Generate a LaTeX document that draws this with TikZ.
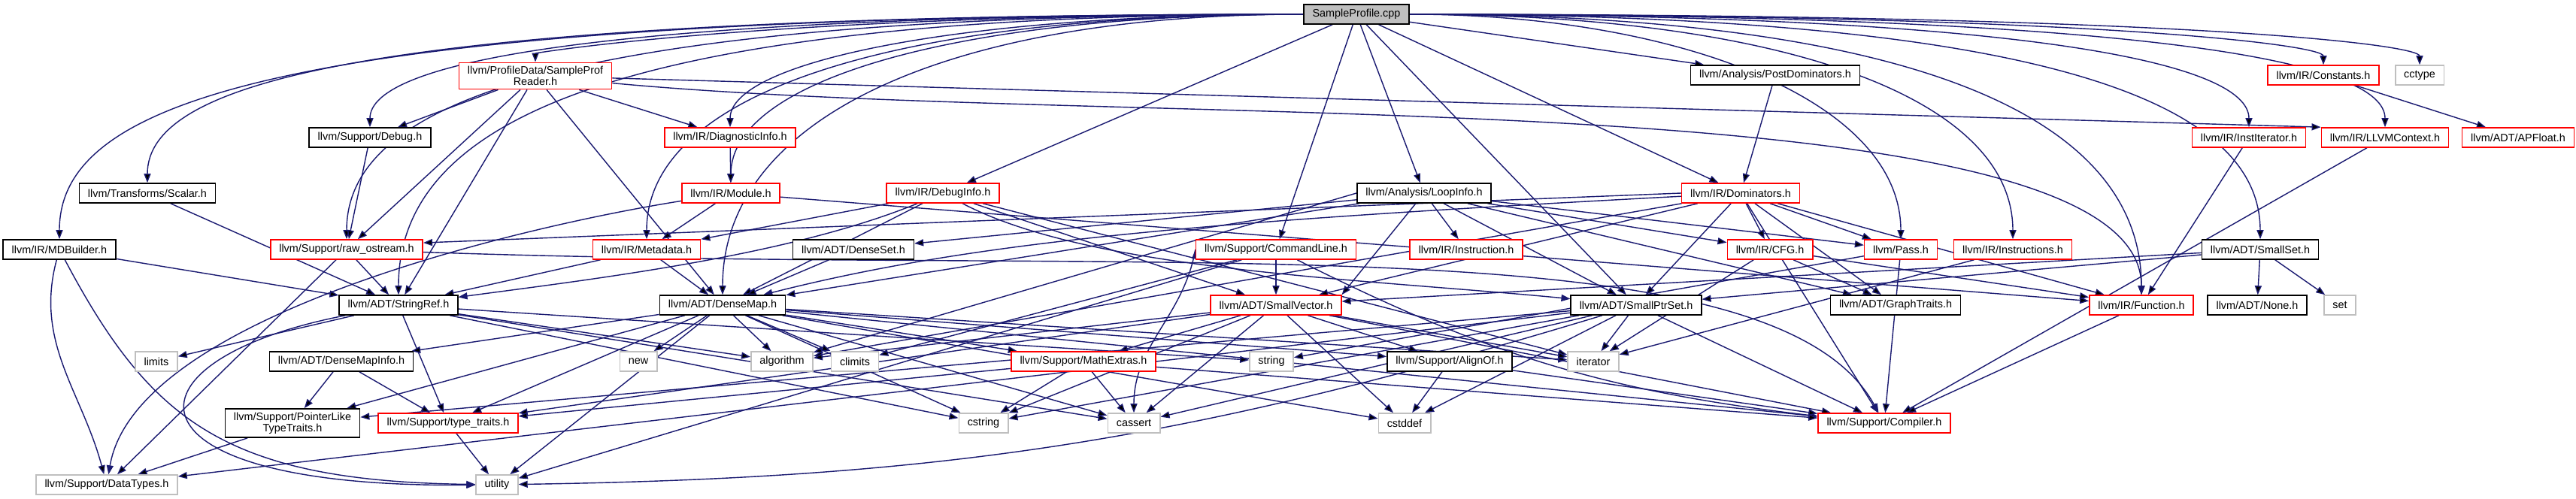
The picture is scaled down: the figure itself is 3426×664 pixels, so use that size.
\documentclass[tikz,border=0pt]{standalone}
\usepackage{fontspec}
\setmainfont{Liberation Sans}
\usetikzlibrary{arrows.meta,calc}
\definecolor{edgeblue}{HTML}{191970}
\definecolor{truncred}{HTML}{FF0000}
\definecolor{sysgray}{HTML}{BFBFBF}
\pgfdeclarelayer{edges}
\pgfsetlayers{edges,main}
\tikzset{
  hdr/.style={rectangle,fill=white,minimum height=5.2mm,inner xsep=2.3mm,inner ysep=1mm,
    line width=0.9pt,align=center,font=\fontsize{8.2}{8.4}\selectfont},
  doc/.style={hdr,draw=black},
  trunc/.style={hdr,draw=truncred},
  sys/.style={hdr,draw=sysgray},
  root/.style={hdr,draw=black,fill=sysgray},
  dep/.style={draw=edgeblue,line width=0.8pt},
  >={Triangle[length=2.4mm,width=1.8mm]},
  fanl/.style={to path={.. controls ($(\tikztotarget |- \tikztostart)+(300,0)$) and ($(\tikztotarget)+(0,-#1)$) .. (\tikztotarget)}},
  fanr/.style={to path={.. controls ($(\tikztotarget |- \tikztostart)+(-300,0)$) and ($(\tikztotarget)+(0,-#1)$) .. (\tikztotarget)}},
}

\begin{document}
\begin{tikzpicture}[x=0.2mm,y=-0.2mm]
  \useasboundingbox (0,0) rectangle (3426,664);
  \node[root]  (sp)      at (1804,19)  {SampleProfile.cpp};
  \node[trunc] (spr)     at (712,101)  {llvm/ProfileData/SampleProf\\Reader.h};
  \node[doc]   (pdom)    at (2361,100) {llvm/Analysis/PostDominators.h};
  \node[trunc] (const)   at (3090,100) {llvm/IR/Constants.h};
  \node[sys]   (cctype)  at (3218,100) {cctype};
  \node[doc]   (dbg)     at (492,183)  {llvm/Support/Debug.h};
  \node[trunc] (diag)    at (971,183)  {llvm/IR/DiagnosticInfo.h};
  \node[trunc] (iiter)   at (2991,183) {llvm/IR/InstIterator.h};
  \node[trunc] (ctx)     at (3172,183) {llvm/IR/LLVMContext.h};
  \node[trunc] (apf)     at (3349,183) {llvm/ADT/APFloat.h};
  \node[doc]   (scalar)  at (196,257)  {llvm/Transforms/Scalar.h};
  \node[trunc] (mod)     at (972,257)  {llvm/IR/Module.h};
  \node[trunc] (dinfo)   at (1254,257) {llvm/IR/DebugInfo.h};
  \node[doc]   (loop)    at (1894,257) {llvm/Analysis/LoopInfo.h};
  \node[trunc] (dom)     at (2315,257) {llvm/IR/Dominators.h};
  \node[doc]   (mdb)     at (79,332)   {llvm/IR/MDBuilder.h};
  \node[trunc] (raw)     at (461,332)  {llvm/Support/raw\_ostream.h};
  \node[trunc] (meta)    at (860,332)  {llvm/IR/Metadata.h};
  \node[doc]   (dset)    at (1135,332) {llvm/ADT/DenseSet.h};
  \node[trunc] (cl)      at (1697,332) {llvm/Support/CommandLine.h};
  \node[trunc] (instr)   at (1950,332) {llvm/IR/Instruction.h};
  \node[trunc] (cfg)     at (2354,332) {llvm/IR/CFG.h};
  \node[trunc] (pass)    at (2528,332) {llvm/Pass.h};
  \node[trunc] (instrs)  at (2677,332) {llvm/IR/Instructions.h};
  \node[doc]   (sset)    at (3006,332) {llvm/ADT/SmallSet.h};
  \node[doc]   (sref)    at (530,406)  {llvm/ADT/StringRef.h};
  \node[doc]   (dmap)    at (961,406)  {llvm/ADT/DenseMap.h};
  \node[trunc] (svec)    at (1697,406) {llvm/ADT/SmallVector.h};
  \node[doc]   (sps)     at (2176,406) {llvm/ADT/SmallPtrSet.h};
  \node[doc]   (gt)      at (2521,406) {llvm/ADT/GraphTraits.h};
  \node[trunc] (func)    at (2848,406) {llvm/IR/Function.h};
  \node[doc]   (none)    at (3002,406) {llvm/ADT/None.h};
  \node[sys]   (set)     at (3112,406) {set};
  \node[sys]   (limits)  at (208,481)  {limits};
  \node[doc]   (dmi)     at (454,481)  {llvm/ADT/DenseMapInfo.h};
  \node[sys]   (new)     at (849,481)  {new};
  \node[sys]   (algo)    at (1040,481) {algorithm};
  \node[sys]   (climits) at (1137,481) {climits};
  \node[trunc] (math)    at (1441,481) {llvm/Support/MathExtras.h};
  \node[sys]   (string)  at (1691,481) {string};
  \node[doc]   (align)   at (1928,481) {llvm/Support/AlignOf.h};
  \node[sys]   (iter)    at (2119,481) {iterator};
  \node[doc]   (plt)     at (389,563)  {llvm/Support/PointerLike\\TypeTraits.h};
  \node[trunc] (tt)      at (596,563)  {llvm/Support/type\_traits.h};
  \node[sys]   (cstring) at (1308,563) {cstring};
  \node[sys]   (cassert) at (1508,563) {cassert};
  \node[sys]   (cstddef) at (1868,563) {cstddef};
  \node[trunc] (comp)    at (2506,563) {llvm/Support/Compiler.h};
  \node[sys]   (dtypes)  at (142,645)  {llvm/Support/DataTypes.h};
  \node[sys]   (util)    at (661,645)  {utility};

  \begin{pgfonlayer}{edges}
  \path[->,dep]
    (sp) edge[fanl=200] (mdb)
    (sp) edge[fanl=150] (scalar)
    (sp) edge[fanl=250] (sref)
    (sp) edge[fanl=200] (raw)
    (sp) edge[fanl=100] (dbg)
    (sp) edge[fanl=30] (spr)
    (sp) edge[fanl=100] (diag)
    (sp) edge[fanl=150] (mod)
    (sp) edge[fanl=250] (dmap)
    (sp) edge[fanl=200] (meta)
    (sp) edge (dinfo)
    (sp) edge (cl)
    (sp) edge (loop)
    (sp) edge (pdom)
    (sp) edge (sps)
    (sp) edge (dom)
    (sp) edge[fanr=200] (pass)
    (sp) edge[fanr=200] (instrs)
    (sp) edge[fanr=250] (func)
    (sp) edge[fanr=200] (sset)
    (sp) edge[fanr=100] (iiter)
    (sp) edge[fanr=100] (ctx)
    (sp) edge[fanr=40] (const)
    (sp) edge[fanr=40] (cctype)
    (spr) edge (dbg)
    (spr) edge (raw)
    (spr) edge (sref)
    (spr) edge (dmap)
    (spr) edge (diag)
    (spr) edge (ctx.north west)
    (dbg) edge (raw)
    (diag) edge (mod)
    (pdom) edge (dom)
    (const) edge (apf)
    (iiter) edge (func)
    (ctx) edge (comp)
    (scalar) edge (sref)
    (mod) edge (meta)
    (mod) edge (func)
    (dinfo) edge (meta)
    (dinfo) edge (dmap)
    (dinfo) edge (svec)
    (dinfo) edge (iter)
    (loop) edge (dmap)
    (loop) edge (dset)
    (loop) edge (gt)
    (loop) edge (sps)
    (loop) edge (svec.north east)
    (loop) edge (cfg)
    (loop) edge (instr)
    (loop) edge (pass)
    (loop.west) edge (algo)
    (dom.west) edge (raw.5)
    (dom) edge (gt)
    (dom) edge (sps)
    (dom) edge (svec)
    (dom) edge (cfg)
    (dom) edge (func)
    (dom) edge (pass)
    (dom) edge (comp)
    (dom) edge (algo)
    (mdb) edge (sref)
    (mdb) edge[out=-105,in=105] (dtypes)
    (raw) edge (sref)
    (raw) edge (dtypes)
    (meta) edge (dmap)
    (meta) edge (sref)
    (dset) edge (dmap)
    (cl) edge (svec)
    (cl) edge[bend right=10] (comp)
    (cl.west) edge[out=-100,in=90] (cassert)
    (cl) edge (climits)
    (cl) edge (util)
    (cfg) edge (gt)
    (cfg) edge (func)
    (cfg) edge (iter)
    (pass) edge (string)
    (pass) edge (comp)
    (instrs) edge (iter)
    (sset) edge (sps)
    (sset) edge (svec)
    (sset) edge (none)
    (sset) edge (set)
    (func) edge (comp)
    (sref) edge (tt)
    (sref) edge (algo)
    (sref) edge (cassert)
    (sref) edge (cstring)
    (sref) edge (limits)
    (sref) edge (string)
    (dmap) edge (dmi)
    (dmap) edge (align)
    (dmap) edge (comp)
    (dmap) edge (math)
    (dmap) edge (plt)
    (dmap) edge (tt)
    (dmap) edge (algo)
    (dmap) edge (cassert)
    (dmap) edge (climits)
    (dmap) edge (cstddef)
    (dmap) edge (cstring)
    (dmap) edge (iter)
    (dmap) edge (new)
    (dmap) edge (util)
    (svec) edge (align)
    (svec) edge (comp)
    (svec) edge (math)
    (svec) edge (tt)
    (svec) edge (algo)
    (svec) edge (cassert)
    (svec) edge (cstddef)
    (svec) edge (cstring)
    (svec) edge (iter)
    (sps) edge (comp)
    (sps) edge (dtypes)
    (sps) edge (plt)
    (sps) edge (cassert)
    (sps) edge (cstddef)
    (sps) edge (cstring)
    (sps) edge (iter)
    (sps) edge[bend left=8] (util)
    (dmi) edge (plt)
    (dmi) edge (tt)
    (math) edge (comp)
    (math) edge (tt)
    (math) edge (cassert)
    (math) edge (cstring)
    (align) edge (comp)
    (align) edge (cstddef)
    (plt) edge (dtypes)
    (tt) edge (util);
  \draw[->,dep] (spr) .. controls (1500,175) and (2848,100) .. (func);
  \draw[->,dep] (raw) .. controls (1560,370) and (2356,290) .. (comp);
  \draw[->,dep] (mdb) .. controls (200,560) and (300,640) .. (util);
  \draw[->,dep] (sref) .. controls (150,480) and (150,650) .. (util);
  \draw[->,dep] (mod) .. controls (700,300) and (180,420) .. (dtypes);
  \draw[->,dep] (dinfo) .. controls (1050,340) and (800,370) .. (sref);
  \draw[->,dep] (dinfo) .. controls (1450,360) and (1800,370) .. (sps);
  \draw[->,dep] (dom) .. controls (1600,295) and (1300,320) .. (dmap);
  \end{pgfonlayer}
\end{tikzpicture}
\end{document}
